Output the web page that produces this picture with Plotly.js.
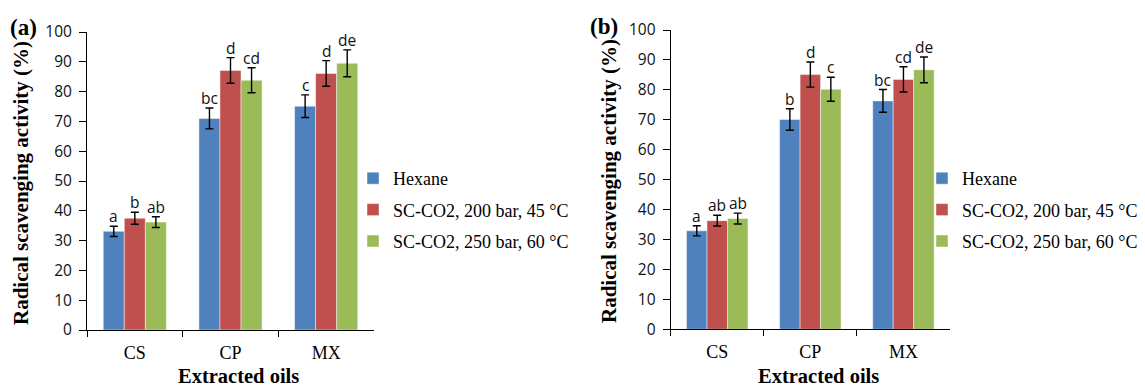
<!DOCTYPE html>
<html>
<head>
<meta charset="utf-8">
<script src="https://cdn.plot.ly/plotly-3.0.1.min.js"></script>
<style>html,body{margin:0;padding:0;background:#fff;}#chart{width:1145px;height:387px;}</style>
</head>
<body>
<div id="chart"></div>
<script>
const categories = ['CS', 'CP', 'MX'];
const seriesNames = ['Hexane', 'SC-CO2, 200 bar, 45 °C', 'SC-CO2, 250 bar, 60 °C'];

// Panel (a)
const aHexane = [33.1, 71.0, 75.1];
const aSc200 = [37.5, 87.1, 86.1];
const aSc250 = [36.2, 83.8, 89.5];
const aHexaneErr = [1.7, 3.5, 3.8];
const aSc200Err = [2.0, 4.3, 4.3];
const aSc250Err = [1.8, 4.2, 4.5];
const aHexaneLetters = ['a', 'bc', 'c'];
const aSc200Letters = ['b', 'd', 'd'];
const aSc250Letters = ['ab', 'cd', 'de'];

// Panel (b)
const bHexane = [32.9, 70.1, 76.3];
const bSc200 = [36.3, 85.1, 83.5];
const bSc250 = [37.0, 80.2, 86.7];
const bHexaneErr = [1.7, 3.6, 3.8];
const bSc200Err = [1.8, 4.2, 4.2];
const bSc250Err = [1.8, 4.0, 4.3];
const bHexaneLetters = ['a', 'b', 'bc'];
const bSc200Letters = ['ab', 'd', 'cd'];
const bSc250Letters = ['ab', 'c', 'de'];

const colors = ['#4F81BD', '#C0504D', '#9BBB59'];

const W = 1145, H = 387;
const bargap = 0.34;
const panels = [
  {xa: 'x', ya: 'y', legend: 'legend', xd: [87, 374], yd: [330, 32],
   vals: [aHexane, aSc200, aSc250], errs: [aHexaneErr, aSc200Err, aSc250Err],
   letters: [aHexaneLetters, aSc200Letters, aSc250Letters]},
  {xa: 'x2', ya: 'y2', legend: 'legend2', xd: [670.7, 950], yd: [329.3, 30],
   vals: [bHexane, bSc200, bSc250], errs: [bHexaneErr, bSc200Err, bSc250Err],
   letters: [bHexaneLetters, bSc200Letters, bSc250Letters]}
];

const traces = [];
const annotations = [];
panels.forEach((p, pi) => {
  const catPx = (p.xd[1] - p.xd[0]) / categories.length;
  const barPx = catPx * (1 - bargap) / seriesNames.length;
  for (let s = 0; s < seriesNames.length; s++) {
    traces.push({
      type: 'bar', x: categories, y: p.vals[s], name: seriesNames[s],
      xaxis: p.xa, yaxis: p.ya, legend: p.legend, legendgroup: 'g' + pi + s,
      marker: {color: colors[s], line: {color: 'rgba(255,255,255,0.45)', width: 1}},
      error_y: {type: 'data', array: p.errs[s], visible: true, color: '#000', thickness: 1.4, width: 4},
      hoverinfo: 'none'
    });
    for (let c = 0; c < categories.length; c++) {
      annotations.push({
        xref: p.xa, yref: p.ya, x: categories[c], y: p.vals[s][c] + p.errs[s][c],
        xshift: (s - 1) * barPx, yshift: -3, yanchor: 'bottom', showarrow: false,
        text: p.letters[s][c], font: {family: 'Open Sans', size: 15.5, color: '#111'}
      });
    }
  }
});

const titleFont = {family: 'Liberation Serif', size: 21, color: '#000'};
const xTitleFont = {family: 'Liberation Serif', size: 20.5, color: '#000'};
annotations.push(
  {xref: 'paper', yref: 'paper', x: 21 / W, y: 1 - 183 / H, text: '<b>Radical scavenging activity (%)</b>', textangle: -90, showarrow: false, font: titleFont, xanchor: 'center', yanchor: 'middle'},
  {xref: 'paper', yref: 'paper', x: 609 / W, y: 1 - 181 / H, text: '<b>Radical scavenging activity (%)</b>', textangle: -90, showarrow: false, font: titleFont, xanchor: 'center', yanchor: 'middle'},
  {xref: 'paper', yref: 'paper', x: 238 / W, y: 0, yshift: -1, text: '<b>Extracted oils</b>', showarrow: false, font: xTitleFont, xanchor: 'center', yanchor: 'bottom', borderpad: 0},
  {xref: 'paper', yref: 'paper', x: 818 / W, y: 0, yshift: -1, text: '<b>Extracted oils</b>', showarrow: false, font: xTitleFont, xanchor: 'center', yanchor: 'bottom', borderpad: 0},
  {xref: 'paper', yref: 'paper', x: 23 / W, y: 1 - 27 / H, text: '<b>(a)</b>', showarrow: false, font: {family: 'Liberation Serif', size: 23, color: '#000'}, xanchor: 'center', yanchor: 'middle'},
  {xref: 'paper', yref: 'paper', x: 604 / W, y: 1 - 26 / H, text: '<b>(b)</b>', showarrow: false, font: {family: 'Liberation Serif', size: 23, color: '#000'}, xanchor: 'center', yanchor: 'middle'}
);

function xaxis(p) {
  return {domain: [p.xd[0] / W, p.xd[1] / W], anchor: p.ya, type: 'category',
    showline: true, linecolor: '#000', linewidth: 1, ticks: 'outside', tickson: 'boundaries',
    ticklen: 6, tickcolor: '#000', showgrid: false, zeroline: false,
    tickfont: {family: 'Liberation Serif', size: 18, color: '#000'}, ticklabelstandoff: 6};
}
function yaxis(p) {
  return {domain: [1 - p.yd[0] / H, 1 - p.yd[1] / H], anchor: p.xa, range: [0, 100], dtick: 10,
    showline: true, linecolor: '#000', linewidth: 1, ticks: 'outside', ticklen: 7, tickcolor: '#000',
    showgrid: false, zeroline: false,
    tickfont: {family: 'Open Sans', size: 15.5, color: '#111'}, ticklabelstandoff: 4};
}
const legendBase = {font: {family: 'Liberation Serif', size: 18, color: '#000'}, bgcolor: 'rgba(0,0,0,0)',
  xanchor: 'left', yanchor: 'top', tracegroupgap: 5, traceorder: 'grouped'};

const layout = {
  width: W, height: H, margin: {l: 0, r: 0, t: 0, b: 0},
  paper_bgcolor: '#fff', plot_bgcolor: '#fff',
  barmode: 'group', bargap: bargap, bargroupgap: 0,
  showlegend: true,
  xaxis: xaxis(panels[0]), yaxis: yaxis(panels[0]),
  xaxis2: xaxis(panels[1]), yaxis2: yaxis(panels[1]),
  legend: Object.assign({}, legendBase, {x: 353 / W, y: 1 - 160 / H}),
  legend2: Object.assign({}, legendBase, {x: 922 / W, y: 1 - 160 / H}),
  annotations: annotations
};

Plotly.newPlot('chart', traces, layout, {displayModeBar: false, staticPlot: true});
</script>
</body>
</html>
